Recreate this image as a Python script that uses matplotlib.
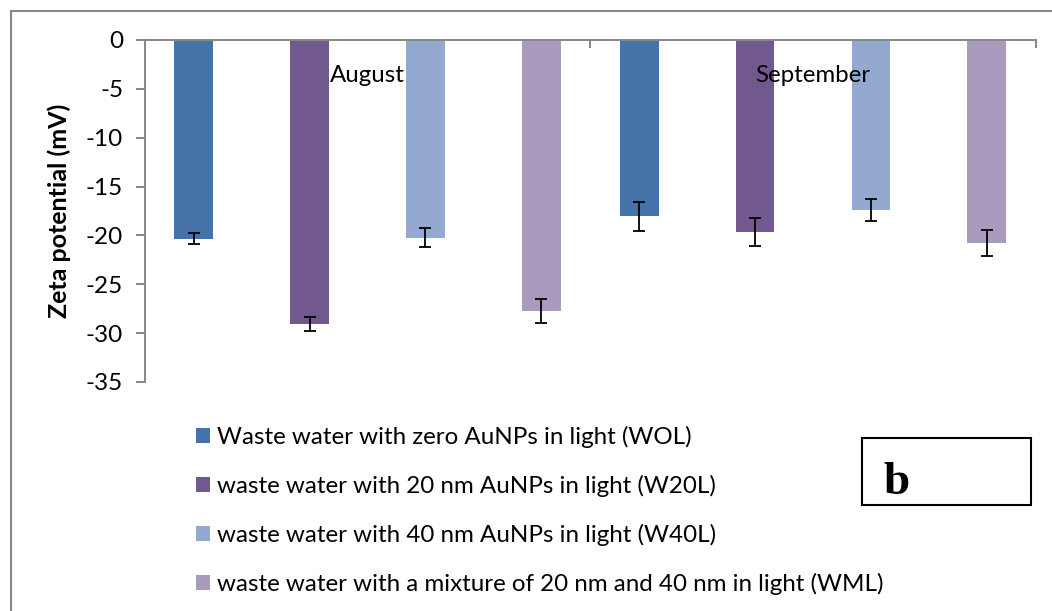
import numpy as np
import matplotlib
matplotlib.use('Agg')
import matplotlib.pyplot as plt
from matplotlib.patches import Rectangle, Patch

plt.rcParams['font.family'] = ['Lato', 'DejaVu Sans']

# Zeta potential (mV) per treatment, for August and September.
months = ['August', 'September']
labels = ['Waste water with zero AuNPs in light (WOL)',
          'waste water with 20 nm AuNPs in light (W20L)',
          'waste water with 40 nm AuNPs in light (W40L)',
          'waste water with a mixture of 20 nm and 40 nm in light (WML)']
wol = [-20.35, -18.05]
w20l = [-29.05, -19.65]
w40l = [-20.25, -17.4]
wml = [-27.75, -20.75]
wol_err = [0.56, 1.5]
w20l_err = [0.7, 1.46]
w40l_err = [0.97, 1.13]
wml_err = [1.25, 1.33]
yticks = [0, -5, -10, -15, -20, -25, -30, -35]

series = [wol, w20l, w40l, wml]
errors = [wol_err, w20l_err, w40l_err, wml_err]
colors = ['#4572A7', '#71588F', '#93A9CF', '#A99BBD']
offsets = [-0.39, -0.13, 0.13, 0.39]
axcol = '#868686'

W, H = 1052, 611
fig = plt.figure(figsize=(W/100, H/100), dpi=100)
ax = fig.add_axes([144.7/W, 1-382/H, (1035.8-144.7)/W, (382-40)/H])

x = np.arange(len(months))
for k in range(4):
    ax.bar(x + offsets[k], series[k], width=0.0866, color=colors[k],
           yerr=errors[k], capsize=4.5,
           error_kw=dict(ecolor='black', elinewidth=1.3, capthick=1.3),
           label=labels[k], zorder=2)

ax.set_xlim(-0.5, 1.5)
ax.set_ylim(-35, 0)

# x axis sits at 0 (top of plot); category labels just below it
for s in ['right', 'bottom']:
    ax.spines[s].set_visible(False)
for s in ['top', 'left']:
    ax.spines[s].set_color(axcol)
    ax.spines[s].set_linewidth(1.4)
ax.xaxis.tick_top()
ax.set_xticks([0.5, 1.5])
ax.set_xticklabels([])
ax.tick_params(axis='x', direction='in', length=6, color=axcol, width=1.4)
for i, m in enumerate(months):
    ax.text(i, -3.6, m, ha='center', va='center', fontsize=17.3)

ax.set_yticks(yticks)
ax.set_yticklabels([str(v) for v in yticks])
ax.tick_params(axis='y', direction='out', length=6.5, color=axcol, width=1.4,
               labelsize=17.5, pad=9)
ax.set_ylabel('Zeta potential (mV)', fontsize=18, fontweight='bold')
ax.yaxis.set_label_coords(-0.083, 0.5)

handles = [Patch(facecolor=c) for c in colors]
fig.legend(handles, labels, loc='upper left', bbox_to_anchor=(186/W, 1-416/H),
           frameon=False, fontsize=17.4, handlelength=0.59, handleheight=0.57,
           handletextpad=0.28, labelspacing=1.12, borderaxespad=0)

# outer chart border (runs off the right and bottom)
fig.add_artist(Rectangle((11/W, -0.1), 1.2, 1.1 - 11/H, transform=fig.transFigure,
                         fill=False, ec=axcol, lw=1.5))
# panel label box
fig.add_artist(Rectangle((862/W, 1-505/H), 169/W, 67/H, transform=fig.transFigure,
                         fill=False, ec='black', lw=1.5))
fig.text(883/W, 1-494/H, 'b', fontsize=34, fontweight='bold',
         family='Liberation Serif', ha='left', va='baseline')

fig.savefig('out.png', dpi=100)
